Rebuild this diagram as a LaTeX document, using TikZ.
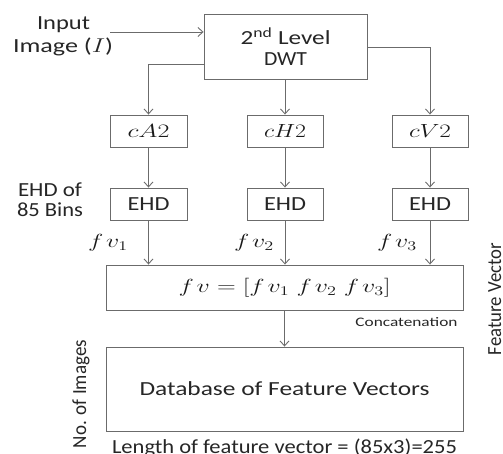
\documentclass[tikz,border=0pt]{standalone}
\usepackage{fix-cm}
\usepackage[no-math]{fontspec}
\usepackage{graphicx}
\setmainfont{Carlito}
\usetikzlibrary{arrows.meta}
% set a text and stretch it sideways to a given width (in pt)
\newsavebox\fitbox
\newcommand\fitw[2]{\sbox\fitbox{#2}\pgfmathsetmacro\fitfac{#1/\the\wd\fitbox}\scalebox{\fitfac}[1]{\usebox\fitbox}}
\newcommand\fvx[1]{f\mkern2mu v_{#1}}
\begin{document}
\begin{tikzpicture}[x=1pt,y=-1pt,
  box/.style={draw=black!58, line width=0.9pt, fill=white, inner sep=0pt},
  conn/.style={draw=black!58, line width=0.9pt, -{Straight Barb[length=5pt,width=9pt]}},
  txt/.style={font=\fontsize{20}{22}\selectfont, text=black!85},
  mathtxt/.style={font=\fontsize{19}{21}\selectfont, text=black!90}
]
\useasboundingbox (0,0) rectangle (503,454);

% processing blocks
\node[box, minimum width=163pt, minimum height=65pt, align=center, txt] (dwt) at (285.5,46.5)
  {\fitw{90}{2\textsuperscript{nd} Level}\\[-1pt]\fitw{43}{DWT}};
\node[box, minimum width=77pt, minimum height=32pt, mathtxt] (ca) at (148.5,131) {\fitw{42}{$cA2$}};
\node[box, minimum width=76pt, minimum height=32pt, mathtxt] (ch) at (285,131) {\fitw{42}{$cH2$}};
\node[box, minimum width=76pt, minimum height=32pt, mathtxt] (cv) at (430,131) {\fitw{42}{$cV2$}};
\node[box, minimum width=77pt, minimum height=32pt, txt] (ea) at (148.5,204) {\fitw{42}{EHD}};
\node[box, minimum width=76pt, minimum height=32pt, txt] (eh) at (285,204) {\fitw{42}{EHD}};
\node[box, minimum width=76pt, minimum height=32pt, txt] (ev) at (430,204) {\fitw{42}{EHD}};
\node[box, minimum width=357pt, minimum height=45pt, mathtxt] (cat) at (284.5,287.5)
  {\raisebox{-2pt}{\fitw{212}{$f\mkern2mu v=[\fvx{1}\;\fvx{2}\;\fvx{3}]$}}};
\node[box, minimum width=357pt, minimum height=84pt, txt] (db) at (284.5,389)
  {\raisebox{-2pt}{\fitw{290}{Database of Feature Vectors}}};

% labels
\node[txt, anchor=base] (inp1) at (63.5,30) {\fitw{53}{Input}};
\node[txt, anchor=base] (inp2) at (63,53) {\fitw{100}{Image ($I$)}};
\coordinate (inpend) at (110,32);
\node[txt, anchor=base] (ehd1) at (50,197) {\fitw{64}{EHD of}};
\node[txt, anchor=base] (ehd2) at (50,217) {\fitw{66}{85 Bins}};
\node[mathtxt, anchor=base] (f1) at (108,248) {\fitw{40}{$\fvx{1}$}};
\node[mathtxt, anchor=base] (f2) at (254,248) {\fitw{40}{$\fvx{2}$}};
\node[mathtxt, anchor=base] (f3) at (397,248) {\fitw{40}{$\fvx{3}$}};
\node[font=\fontsize{13}{15}\selectfont, text=black!85, anchor=base east] (concat) at (461,326)
  {\fitw{102}{Concatenation}};
\node[txt, anchor=base] (len) at (284.5,453) {\fitw{345}{Length of feature vector = (85x3)=255}};
\node[txt, rotate=90, anchor=base] (noimg) at (86,394) {\fitw{108}{No. of Images}};
\node[txt, rotate=90, anchor=base] (fvec) at (501,299) {\fitw{112}{Feature Vector}};

% connectors
\draw[conn] (inpend) -- (inpend -| dwt.west);
\draw[conn] (dwt.west |- 0,64) -| (ca.north);
\draw[conn] (dwt.south -| ch.north) -- (ch.north);
\draw[conn] (dwt.east |- 0,47) -| (cv.north);
\draw[conn] (ca) -- (ea);
\draw[conn] (ch) -- (eh);
\draw[conn] (cv) -- (ev);
\draw[conn] (ea.south) -- (ea.south |- cat.north);
\draw[conn] (eh.south) -- (eh.south |- cat.north);
\draw[conn] (ev.south) -- (ev.south |- cat.north);
\draw[conn] (cat.south) -- (db.north);
\end{tikzpicture}
\end{document}
